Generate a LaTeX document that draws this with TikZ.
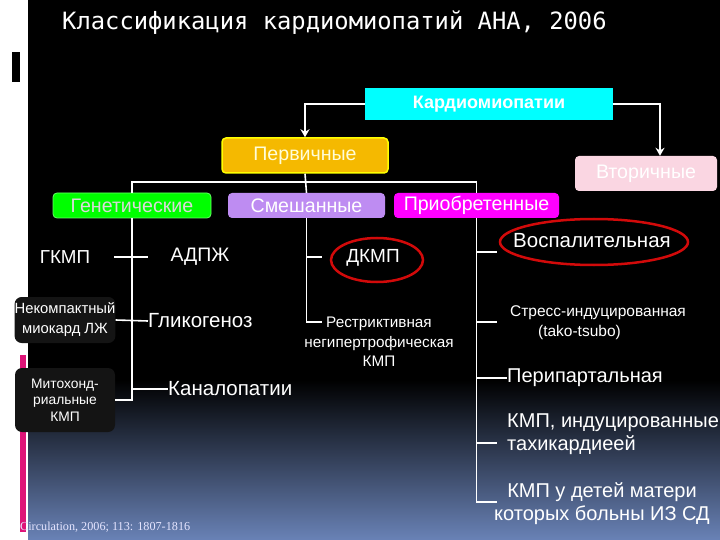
\documentclass[tikz,border=0pt]{standalone}
\usepackage{fontspec}
\setmainfont{Liberation Sans}
\newfontfamily\titlefont{DejaVu Sans Mono}
\newfontfamily\citefont{Liberation Serif}
\usepackage{xcolor}
\usetikzlibrary{arrows.meta}
\definecolor{cmcyan}{RGB}{0,255,255}
\definecolor{cmgold}{RGB}{245,185,0}
\definecolor{cmyellow}{RGB}{255,255,0}
\definecolor{cmgreen}{RGB}{0,255,0}
\definecolor{cmlilac}{RGB}{190,140,242}
\definecolor{cmmagenta}{RGB}{255,0,255}
\definecolor{cmpink}{RGB}{250,214,226}
\definecolor{cmbox}{RGB}{20,20,20}
\definecolor{cmred}{RGB}{210,10,10}
\definecolor{cmbar}{RGB}{222,20,120}
\definecolor{cmblue}{RGB}{105,130,182}

\begin{document}
\begin{tikzpicture}[x=1pt,y=-1pt,
  wire/.style={white,line width=1.6pt},
  catbox/.style={rounded corners=4pt,inner sep=0pt,text=white,
    font=\fontsize{19.6}{19.6}\selectfont},
  darkbox/.style={fill=cmbox,rounded corners=7pt,inner sep=0pt,text=white,
    align=center,minimum width=100pt},
  lbl/.style={text=white,inner sep=0pt}]
\useasboundingbox (0,0) rectangle (720,540);
% background: white strip, black slide, blue fade at the bottom
\fill[white] (0,0) rectangle (720,540);
\fill[black] (28,0) rectangle (720,540);
\shade[top color=black,bottom color=cmblue] (28,380) rectangle (720,540);
\fill[black] (12,52) rectangle (20,82);
\fill[cmbar] (20,355) rectangle (26,532);
% title
\node[lbl,anchor=base west,font=\titlefont\fontsize{23.8}{24}\selectfont] (title) at (62,30)
  {Классификация кардиомиопатий АНА, 2006};
% top level
\node[fill=cmcyan,minimum width=248pt,minimum height=32pt,inner sep=0pt,text=white,
  font=\bfseries\fontsize{18}{18}\selectfont] (cmp) at (489,104) {Кардиомиопатии};
\node[catbox,fill=cmgold,draw=cmyellow,line width=1.5pt,minimum width=166pt,minimum height=35pt,
  text=white!85!yellow] (prim) at (305,155.5) {Первичные};
\node[catbox,fill=cmpink,minimum width=142pt,minimum height=35pt] (sec) at (646,173.5) {Вторичные};
\draw[wire,-{Stealth[length=8pt,width=9pt]}] (cmp.west) -| (prim.north);
\draw[wire,-{Stealth[length=8pt,width=9pt]}] (cmp.east) -| ([xshift=14pt]sec.north);
% second level
\node[catbox,fill=cmgreen,draw=green!60!white,line width=0.8pt,minimum width=158pt,minimum height=25pt,
  text=white!85!black] (gen) at (132,205.5) {Генетические};
\node[catbox,fill=cmlilac,minimum width=157pt,minimum height=25pt] (mix) at (306.5,205.5) {Смешанные};
\node[catbox,fill=cmmagenta,minimum width=165pt,minimum height=25pt] (acq) at (476.5,205.5) {Приобретенные};
\coordinate (bus) at (306,182);
\draw[wire] (prim.south) -- (mix.north);
\draw[wire] (gen.north) |- (bus) -| (acq.north);
% genetic branch
\node[lbl,font=\fontsize{18.8}{18.8}\selectfont] (hcm) at (65,257) {ГКМП};
\node[lbl,font=\fontsize{19.5}{19.5}\selectfont] (arvc) at (200,257) {АДПЖ};
\node[darkbox,minimum height=46pt,font=\fontsize{14.8}{20}\selectfont] (lvnc) at (65,320)
  {Некомпактный\\миокард ЛЖ};
\node[darkbox,minimum height=64pt,font=\fontsize{13.8}{16.5}\selectfont] (mito) at (65,400)
  {Митохонд-\\риальные\\КМП};
\node[lbl,anchor=west,font=\fontsize{20.5}{20.5}\selectfont] (glyc) at (148,321) {Гликогеноз};
\node[lbl,anchor=west,font=\fontsize{20.5}{20.5}\selectfont] (chan) at (168,389) {Каналопатии};
\draw[wire] (gen.south) |- (mito.east);
\draw[wire] ([xshift=24pt]hcm.east) -- ([xshift=-22pt]arvc.west);
\draw[wire] (lvnc.east) -- (glyc.west);
\draw[wire] (chan.west -| gen.south) -- (chan.west);
% mixed branch
\node[lbl,font=\fontsize{19}{19}\selectfont] (dcm) at (373,258) {ДКМП};
\draw[cmred,line width=2.5pt] (377,260) ellipse [x radius=46,y radius=22];
\node[lbl,align=center,font=\fontsize{15.3}{19.5}\selectfont] (rcm) at (379,342)
  {Рестриктивная\\негипертрофическая\\КМП};
\coordinate (dtick) at (322,257);
\coordinate (rtick) at (322,322);
\draw[wire] (mix.south) |- (rtick);
\draw[wire] (dtick -| mix.south) -- (dtick);
% acquired branch
\node[lbl,font=\fontsize{20.5}{20.5}\selectfont] (infl) at (592,241) {Воспалительная};
\draw[cmred,line width=2.5pt] (594,242) ellipse [x radius=94,y radius=23];
\node[lbl,align=left,font=\fontsize{15.5}{20}\selectfont] (tako) at (598,323)
  {Стресс-индуцированная\\\hspace*{28pt}(tako-tsubo)};
\node[lbl,anchor=west,font=\fontsize{20}{20}\selectfont] (peri) at (507,378) {Перипартальная};
\node[lbl,anchor=west,align=left,font=\fontsize{20}{23}\selectfont] (tachy) at (507,434)
  {КМП, индуцированные\\тахикардиеей};
\node[lbl,align=center,font=\fontsize{20}{23}\selectfont] (idm) at (602,504)
  {КМП у детей матери\\которых больны ИЗ СД};
\coordinate (atick1) at (497,252);
\coordinate (atick2) at (497,322);
\coordinate (atick4) at (497,443);
\coordinate (abot) at (497,502);
\draw[wire] (acq.south) |- (abot);
\draw[wire] (atick1 -| acq.south) -- (atick1);
\draw[wire] (atick2 -| acq.south) -- (atick2);
\draw[wire] (peri.west -| acq.south) -- (peri.west);
\draw[wire] (atick4 -| acq.south) -- (atick4);
% source
\node[lbl,anchor=west,text=white!90!blue,font=\citefont\fontsize{12.2}{12}\selectfont] (cite) at (20,527)
  {Circulation, 2006; 113: 1807-1816};
\end{tikzpicture}
\end{document}
